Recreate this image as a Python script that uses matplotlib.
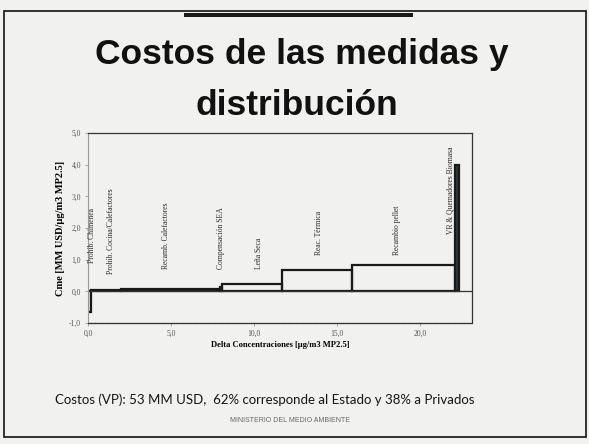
import numpy as np
import matplotlib.pyplot as plt
from matplotlib.patches import Rectangle

# medidas (orden de la curva de costos)
medidas = ["Prohib. Chimenea", "Prohib. Cocina/Calefactores", "Recamb. Calefactores",
           "Compensación SEA", "Leña Seca", "Reac. Térmica", "Recambio pellet",
           "VR & Quemadores Biomasa"]
delta = [0.2, 1.8, 5.95, 0.1, 3.6, 4.25, 6.2, 0.2]      # ug/m3 MP2.5
costo = [-0.65, 0.03, 0.07, 0.15, 0.22, 0.68, 0.83, 4.0]  # MM USD / ug/m3
yticks = [-1, 0, 1, 2, 3, 4, 5]
xticks = [0, 5, 10, 15, 20]

bg = '#f1f1ef'
fig = plt.figure(figsize=(5.89, 4.44), dpi=100, facecolor=bg)

# marco de la diapositiva
fig.add_artist(Rectangle((4/589, 1-437/444), 582/589, 426/444, transform=fig.transFigure,
                         fill=False, edgecolor='#222222', lw=1.3))
fig.add_artist(Rectangle((184/589, 1-17/444), 229/589, 4/444, transform=fig.transFigure,
                         facecolor='#1a1a1a', edgecolor='none'))

fig.text(302/589, 1-64/444, 'Costos de las medidas y', ha='center', va='baseline',
         fontsize=25.5, fontweight='bold', family='Liberation Sans', color='#111111')
fig.text(297/589, 1-115/444, 'distribución', ha='center', va='baseline',
         fontsize=25.5, fontweight='bold', family='Liberation Sans', color='#111111')

ax = fig.add_axes([88/589, 1-323/444, 384/589, 190/444])
ax.set_facecolor(bg)

left = np.concatenate([[0], np.cumsum(delta)[:-1]])
colors = ['none'] * (len(medidas) - 1) + ['#2b3c3b']
ax.bar(left, costo, width=delta, align='edge', color=colors, edgecolor='#1a1a1a', lw=1.6)
ax.axhline(0, color='#333333', lw=0.9)

label_y = [0.9, 0.55, 0.7, 0.7, 0.7, 1.15, 1.15, 1.8]
label_dx = [0.15, 0.3, -0.3, 0.0, 0.45, 0.1, -0.4, -0.4]
for m, l, w, yy, dx in zip(medidas, left, delta, label_y, label_dx):
    ax.text(l + w/2 + dx, yy, m, rotation=90, ha='center', va='bottom',
            fontsize=5.5, family='Liberation Serif', color='#2a2a2a')

ax.set_xlim(0, 23.1)
ax.set_ylim(-1, 5)
ax.set_yticks(yticks)
ax.set_yticklabels([f'{v:.1f}'.replace('.', ',') for v in yticks])
ax.set_xticks(xticks)
ax.set_xticklabels([f'{v:.1f}'.replace('.', ',') for v in xticks])
ax.tick_params(labelsize=5.5, length=2, width=0.5, color='#888888', labelcolor='#555555', pad=3)
for t in ax.get_xticklabels() + ax.get_yticklabels():
    t.set_family('Liberation Serif')
for s in ['top', 'right', 'bottom']:
    ax.spines[s].set_color('#333333')
    ax.spines[s].set_linewidth(0.9)
ax.spines['left'].set_color('#999999')
ax.spines['left'].set_linestyle((0, (1, 1)))
ax.spines['left'].set_linewidth(0.8)
ax.spines['bottom'].set_linestyle((0, (1, 0.5)))

ax.set_xlabel('Delta Concentraciones [µg/m3 MP2.5]', fontsize=6.1, fontweight='bold',
              family='Liberation Serif', labelpad=2)
ax.set_ylabel('Cme [MM USD/µg/m3 MP2.5]', fontsize=7.5, fontweight='bold',
              family='Liberation Serif', labelpad=3)

fig.text(55/589, 1-400/444, 'Costos (VP): 53 MM USD,  62% corresponde al Estado y 38% a Privados',
         ha='left', va='center', fontsize=9.5, family='Lato', color='#151515')
fig.text(290/589, 1-420/444, 'MINISTERIO DEL MEDIO AMBIENTE', ha='center', va='center',
         fontsize=5, family='Liberation Sans', color='#666666')

fig.savefig('out.png', dpi=100, facecolor=bg)
